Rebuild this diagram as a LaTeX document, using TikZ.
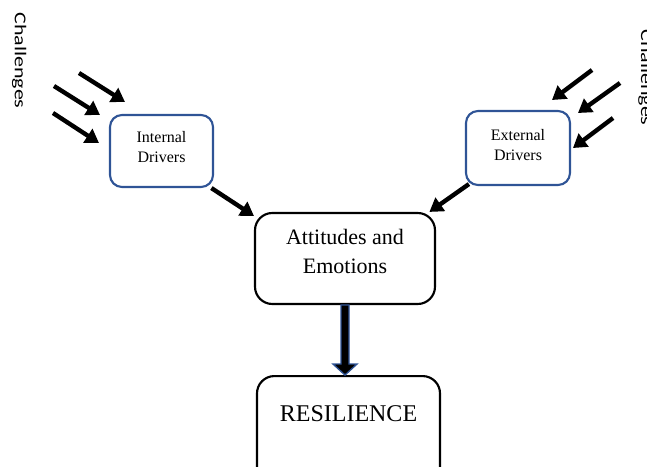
\documentclass[tikz,border=0pt]{standalone}
\usepackage{fontspec}
\setmainfont{Liberation Serif}
\newfontfamily\chalfont{Carlito}
\usetikzlibrary{positioning,arrows.meta,calc}

\definecolor{drvblue}{RGB}{47,84,150}

\tikzset{
  drvbox/.style={draw=drvblue, line width=1.6pt, rounded corners=9pt},
  mainbox/.style={draw=black, line width=1.6pt, rounded corners=13pt},
  drvtext/.style={align=center, font=\fontsize{12}{15}\selectfont},
  chaltext/.style={font=\chalfont\fontsize{16.5}{20}\selectfont, rotate=-90, yscale=0.75, anchor=base},
  chalarrow/.style={line width=3.3pt, -{Triangle[length=10pt,width=12pt]}},
  bigarrow/.style={draw=drvblue, fill=black, line width=1pt, line join=miter},
}

\begin{document}
\begin{tikzpicture}[x=0.75pt, y=-0.75pt]
			%%%%% FRAME %%%%%
			\useasboundingbox (0,0) rectangle (647,467);
			\clip (0,0) rectangle (647,467);
			
			%%%%% BOXES %%%%%
			\node[drvbox, minimum width=103*0.75pt, minimum height=72*0.75pt] (intbox) at (161.5,151) {};
			\node[drvtext] (inttext) at ([yshift=3pt]intbox.center) {Internal\\Drivers};
			
			\node[drvbox, minimum width=104*0.75pt, minimum height=74*0.75pt] (extbox) at (518,148) {};
			\node[drvtext] (exttext) at ([yshift=2.6pt]extbox.center) {External\\Drivers};
			
			\node[mainbox, minimum width=180*0.75pt, minimum height=91*0.75pt] (attbox) at (345,258.5) {};
			\node[align=center, font=\fontsize{16.5}{21.75}\selectfont] (atttext) at ([yshift=4.9pt]attbox.center) {Attitudes and\\Emotions};
			
			\node[mainbox, minimum width=183*0.75pt, minimum height=110*0.75pt, anchor=north] (resbox) at (348.5,375) {};
			\node[font=\fontsize{18}{22}\selectfont] (restext) at ([yshift=-29.25pt]resbox.north) {RESILIENCE};
			
			%%%%% CHALLENGES %%%%%
			\node[chaltext] (chalL) at (15,60.5) {Challenges};
			\node[chaltext] (chalR) at (641,77.5) {Challenges};
			
			\coordinate (la1) at (79,73);   \coordinate (lb1) at (125,102);
			\coordinate (la2) at (54,86);   \coordinate (lb2) at (100,115);
			\coordinate (la3) at (53,113);  \coordinate (lb3) at (99,143);
			\draw[chalarrow] (la1) -- (lb1);
			\draw[chalarrow] (la2) -- (lb2);
			\draw[chalarrow] (la3) -- (lb3);
			
			\coordinate (ra1) at (592,70);  \coordinate (rb1) at (552,100);
			\coordinate (ra2) at (620,83);  \coordinate (rb2) at (578,113);
			\coordinate (ra3) at (613,118); \coordinate (rb3) at (573,148);
			\draw[chalarrow] (ra1) -- (rb1);
			\draw[chalarrow] (ra2) -- (rb2);
			\draw[chalarrow] (ra3) -- (rb3);
			
			%%%%% CONNECTORS %%%%%
			\draw[chalarrow] ([xshift=-2pt]intbox.south east) -- ([yshift=-3pt]attbox.north west);
			\draw[chalarrow] ([xshift=3pt,yshift=1.5pt]extbox.south west) -- ([xshift=-5pt]attbox.north east);
			
			\draw[bigarrow, shift={(attbox.south)}] (-4,0) -- (-4,59) -- (-12,59) -- (0,70) -- (12,59) -- (4,59) -- (4,0) -- cycle;
			
			%%%%% END %%%%%
\end{tikzpicture}
\end{document}
